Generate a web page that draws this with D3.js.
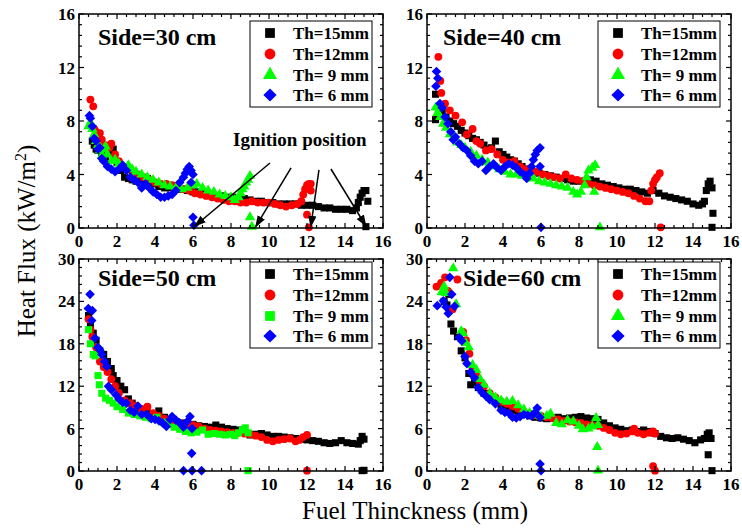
<!DOCTYPE html>
<html>
<head>
<meta charset="utf-8">
<script src="https://d3js.org/d3.v7.min.js"></script>
<style>
  body { margin: 0; background: #fff; }
  text { font-family: "Liberation Serif", "Times New Roman", Times, "DejaVu Serif", serif; }
</style>
</head>
<body>
<svg id="frame" width="742" height="531"></svg>
<script>
// ---- data: [fuel thickness mm, heat flux kW/m2] ----
var s30_15 = [[0.7,6.5],[0.8,6.2],[0.9,5.9],[1.0,5.8],[1.2,5.6],[1.4,5.3],[1.6,5.6],[1.8,5.9],[2.0,4.9],[2.2,4.3],[2.4,3.8],[2.6,3.7],[2.8,3.6],[3.0,3.5],[3.3,3.6],[3.6,3.7],[3.9,3.3],[4.2,3.1],[4.5,3.0],[4.8,3.0],[5.1,2.9],[5.4,2.9],[5.7,2.8],[6.0,2.7],[6.3,2.7],[6.6,2.6],[6.9,2.5],[7.2,2.4],[7.5,2.4],[7.8,2.3],[8.1,2.3],[8.4,2.2],[8.7,2.2],[9.0,2.1],[9.3,2.0],[9.6,2.0],[9.9,1.9],[10.2,1.9],[10.5,1.8],[10.8,1.8],[11.1,1.8],[11.4,1.8],[11.7,1.7],[12.0,1.7],[12.3,1.7],[12.6,1.6],[12.9,1.5],[13.2,1.5],[13.5,1.4],[13.8,1.4],[14.1,1.4],[14.4,1.3],[14.6,1.5],[14.7,1.9],[14.8,2.3],[14.9,2.6],[15.0,2.8],[15.1,2.8],[15.2,2.0],[15.1,0.1]];
var s30_12 = [[0.6,9.6],[0.75,9.1],[0.8,7.4],[0.9,7.2],[1.0,7.0],[1.1,7.1],[1.2,6.6],[1.4,6.2],[1.6,6.0],[1.7,6.3],[1.9,5.5],[2.1,5.0],[2.3,4.6],[2.5,4.4],[2.8,4.2],[3.1,4.0],[3.4,3.8],[3.7,3.6],[4.0,3.4],[4.3,3.3],[4.6,3.3],[4.9,3.2],[5.2,3.0],[5.5,2.9],[5.8,2.8],[6.1,2.6],[6.4,2.5],[6.7,2.4],[7.0,2.3],[7.3,2.2],[7.6,2.1],[7.9,2.0],[8.2,2.0],[8.5,1.9],[8.8,1.9],[9.1,2.0],[9.4,1.9],[9.7,1.9],[10.0,1.9],[10.3,1.8],[10.6,1.7],[10.9,1.6],[11.2,1.7],[11.5,1.8],[11.7,2.0],[11.8,2.5],[11.9,2.9],[12.0,3.2],[12.1,3.3],[12.2,3.3],[12.2,2.8],[12.0,1.0],[12.1,0.05]];
var s30_9 = [[0.5,7.6],[0.6,7.9],[0.7,7.4],[0.8,7.0],[0.9,6.5],[1.0,6.2],[1.1,5.8],[1.2,5.4],[1.3,5.9],[1.4,6.1],[1.5,5.5],[1.7,5.0],[1.9,5.1],[2.1,4.8],[2.3,4.6],[2.6,4.7],[2.8,4.4],[3.0,4.2],[3.3,4.0],[3.6,3.8],[3.9,3.6],[4.2,3.4],[4.5,3.2],[4.8,3.1],[5.1,3.0],[5.4,2.9],[5.7,3.0],[6.0,3.2],[6.2,3.3],[6.5,3.0],[6.8,2.8],[7.1,2.7],[7.4,2.5],[7.7,2.4],[8.0,2.3],[8.2,2.1],[8.4,2.3],[8.5,2.6],[8.6,2.9],[8.7,3.1],[8.8,3.4],[8.9,3.6],[9.0,3.9],[9.0,0.8],[9.1,0.1]];
var s30_6 = [[0.55,8.4],[0.6,8.2],[0.7,7.6],[0.8,6.7],[0.9,6.5],[1.0,5.9],[1.1,6.0],[1.2,5.2],[1.3,5.0],[1.5,4.6],[1.7,4.4],[1.9,4.2],[2.1,4.4],[2.3,4.7],[2.5,4.3],[2.7,3.8],[2.9,3.6],[3.1,3.4],[3.3,3.0],[3.5,3.3],[3.7,3.0],[3.9,2.7],[4.1,2.5],[4.3,2.3],[4.5,2.3],[4.7,2.4],[4.9,2.5],[5.1,2.8],[5.3,3.4],[5.5,3.8],[5.6,4.1],[5.7,4.4],[5.8,4.6],[5.9,4.3],[6.0,4.0],[5.9,3.4],[6.0,0.8],[6.05,0.2]];

var s40_15 = [[0.45,10.0],[0.45,8.1],[0.6,8.5],[0.8,8.7],[1.0,8.3],[1.2,8.0],[1.4,7.8],[1.6,7.6],[1.8,7.3],[2.0,7.1],[2.2,6.9],[2.4,6.7],[2.6,6.6],[2.8,6.4],[3.0,6.2],[3.2,5.9],[3.4,6.0],[3.6,6.5],[3.8,5.7],[4.0,5.5],[4.2,5.3],[4.4,5.1],[4.6,5.0],[4.8,4.8],[5.0,4.6],[5.3,4.4],[5.6,4.2],[5.9,4.1],[6.2,4.0],[6.5,3.9],[6.8,3.8],[7.1,3.7],[7.4,3.6],[7.7,3.5],[8.0,3.5],[8.3,3.4],[8.6,3.6],[8.9,3.5],[9.2,3.3],[9.5,3.2],[9.8,3.1],[10.1,3.0],[10.4,2.9],[10.7,2.9],[11.0,2.8],[11.3,2.7],[11.6,2.6],[11.9,2.8],[12.2,2.6],[12.5,2.4],[12.8,2.3],[13.1,2.2],[13.4,2.1],[13.7,2.0],[14.0,1.8],[14.3,1.7],[14.5,1.8],[14.6,2.0],[14.7,2.8],[14.8,3.3],[14.9,3.5],[15.0,3.0],[15.05,1.1],[15.0,0.05]];
var s40_12 = [[0.6,12.8],[0.7,11.0],[0.75,10.1],[0.95,9.3],[1.2,8.8],[1.5,8.4],[1.85,7.9],[2.1,7.0],[2.4,7.4],[2.6,6.5],[2.8,6.3],[3.1,5.8],[3.4,5.9],[3.7,5.5],[4.0,5.1],[4.3,4.9],[4.6,5.0],[4.9,4.6],[5.2,4.4],[5.5,4.3],[5.8,4.2],[6.1,4.0],[6.4,3.9],[6.7,3.8],[7.0,3.7],[7.3,4.0],[7.6,3.7],[7.9,3.6],[8.2,3.5],[8.5,3.3],[8.8,3.2],[9.1,3.1],[9.4,3.0],[9.7,2.9],[10.0,2.8],[10.3,2.7],[10.6,2.6],[10.9,2.4],[11.2,2.2],[11.5,2.0],[11.7,2.0],[11.8,2.8],[11.9,3.3],[12.0,3.6],[12.1,3.8],[12.25,4.1],[12.3,0.05]];
var s40_9 = [[0.45,9.0],[0.55,8.6],[0.7,8.3],[0.85,7.8],[1.0,7.5],[1.2,7.0],[1.4,6.8],[1.6,6.4],[1.8,6.2],[2.0,6.0],[2.3,5.7],[2.6,5.4],[2.9,5.1],[3.2,4.9],[3.5,4.6],[3.8,4.4],[4.1,4.2],[4.4,4.0],[4.7,4.0],[5.0,3.9],[5.3,3.8],[5.6,3.7],[5.9,3.5],[6.2,3.4],[6.5,3.3],[6.8,3.2],[7.1,3.1],[7.4,3.0],[7.7,2.7],[7.9,2.5],[8.1,2.7],[8.3,3.2],[8.4,3.8],[8.5,4.3],[8.7,4.5],[8.85,4.7],[8.8,2.7],[9.1,0.05]];
var s40_6 = [[0.5,11.7],[0.57,11.2],[0.47,10.6],[0.68,9.3],[0.8,9.0],[0.95,8.3],[1.1,7.8],[1.25,7.2],[1.38,6.6],[1.5,6.8],[1.7,6.3],[1.9,6.0],[2.1,5.8],[2.3,5.4],[2.5,5.0],[2.7,4.8],[2.9,5.0],[3.1,4.3],[3.3,4.6],[3.5,4.8],[3.7,4.5],[3.9,4.3],[4.1,4.6],[4.3,4.8],[4.5,4.7],[4.7,4.5],[4.9,4.2],[5.1,4.0],[5.25,3.7],[5.4,4.1],[5.5,4.6],[5.6,5.1],[5.7,5.5],[5.8,5.8],[5.95,6.0],[5.95,4.6],[6.0,0.05]];

var s50_15 = [[0.5,22.0],[0.6,20.5],[0.75,19.5],[0.9,18.5],[1.1,17.0],[1.3,16.5],[1.5,15.5],[1.7,14.5],[1.8,13.5],[2.0,12.8],[2.2,12.0],[2.4,11.5],[2.6,10.2],[2.8,9.6],[3.0,9.0],[3.3,8.5],[3.6,8.2],[3.9,8.0],[4.2,8.5],[4.5,7.6],[4.8,7.2],[5.1,7.0],[5.4,6.8],[5.7,6.7],[6.0,6.6],[6.3,6.4],[6.6,6.3],[6.9,6.2],[7.2,6.5],[7.5,6.2],[7.8,6.0],[8.1,5.9],[8.4,5.8],[8.7,5.5],[9.0,5.1],[9.3,5.2],[9.6,5.3],[9.9,5.1],[10.2,4.9],[10.5,4.9],[10.8,4.8],[11.1,4.7],[11.4,4.6],[11.7,4.5],[12.0,4.4],[12.3,4.3],[12.6,4.2],[12.9,4.0],[13.2,3.9],[13.5,4.0],[13.8,4.3],[14.1,4.0],[14.4,3.9],[14.7,3.8],[14.8,4.3],[14.9,4.9],[15.0,4.5],[15.0,0.1],[14.9,0.05]];
var s50_12 = [[0.5,21.5],[0.6,20.0],[0.7,19.0],[0.9,17.5],[1.1,15.5],[1.3,14.7],[1.5,14.0],[1.7,13.0],[1.9,12.0],[2.1,11.0],[2.4,10.0],[2.7,9.6],[3.0,9.2],[3.3,8.8],[3.6,9.1],[3.9,8.2],[4.2,7.8],[4.5,7.4],[4.8,7.0],[5.1,6.8],[5.4,6.6],[5.7,6.6],[6.0,6.5],[6.3,6.3],[6.6,6.0],[6.9,5.8],[7.2,5.7],[7.5,5.6],[7.8,5.5],[8.1,5.4],[8.4,5.4],[8.7,5.3],[9.0,5.2],[9.3,5.0],[9.6,4.8],[9.9,4.4],[10.2,4.2],[10.5,4.4],[10.8,4.5],[11.1,4.6],[11.4,4.2],[11.6,4.4],[11.8,4.8],[12.0,5.1],[12.0,0.05]];
var s50_9 = [[0.5,20.0],[0.6,18.0],[0.75,16.5],[0.85,16.3],[1.0,13.5],[1.07,12.2],[1.2,11.0],[1.4,10.3],[1.6,10.0],[1.8,9.6],[2.0,9.1],[2.3,8.7],[2.6,8.2],[2.9,8.0],[3.2,7.8],[3.5,7.6],[3.8,7.4],[4.1,7.6],[4.4,6.9],[4.7,6.6],[5.0,6.2],[5.3,5.9],[5.6,5.6],[5.9,5.4],[6.2,5.5],[6.5,5.8],[6.8,5.2],[7.1,5.3],[7.4,5.2],[7.7,5.1],[8.0,5.2],[8.2,5.0],[8.4,5.4],[8.6,5.8],[8.75,6.1],[8.9,5.4],[8.9,0.05]];
var s50_6 = [[0.49,23.0],[0.58,25.0],[0.7,22.7],[0.67,21.3],[0.84,18.8],[1.0,17.5],[1.1,17.1],[1.2,16.5],[1.35,15.5],[1.46,14.8],[1.55,12.0],[1.7,11.5],[1.94,10.8],[2.1,10.2],[2.3,9.7],[2.5,9.6],[2.7,8.6],[2.9,8.3],[3.1,9.2],[3.3,8.0],[3.56,8.0],[3.8,7.4],[4.0,7.3],[4.2,7.1],[4.4,6.8],[4.6,6.3],[4.8,7.3],[4.9,7.7],[5.1,7.2],[5.3,6.8],[5.5,6.2],[5.7,7.0],[5.84,7.7],[5.95,6.0],[5.93,2.5],[5.5,0.05],[5.95,0.05],[6.45,0.05]];

var s60_15 = [[0.9,24.0],[1.05,23.5],[1.15,25.0],[1.26,20.8],[1.4,19.8],[1.6,19.0],[1.8,17.0],[2.0,16.0],[2.2,13.8],[2.3,12.2],[2.5,12.5],[2.7,11.8],[3.0,11.0],[3.3,10.5],[3.6,10.0],[3.9,9.3],[4.2,9.0],[4.5,8.6],[4.8,8.3],[5.1,8.0],[5.4,7.8],[5.7,7.6],[6.0,7.5],[6.3,7.4],[6.6,7.5],[6.9,7.6],[7.2,7.4],[7.5,7.5],[7.8,7.6],[8.1,7.7],[8.4,7.5],[8.7,7.4],[9.0,7.3],[9.3,6.8],[9.6,6.4],[9.9,6.1],[10.2,5.9],[10.5,5.7],[10.8,5.8],[11.1,5.6],[11.4,5.8],[11.7,5.6],[12.0,5.3],[12.3,4.9],[12.6,4.7],[12.9,4.6],[13.2,4.7],[13.5,4.5],[13.8,4.3],[14.1,4.0],[14.4,4.4],[14.6,4.6],[14.75,5.2],[14.85,5.4],[14.95,4.6],[14.8,2.3],[15.0,0.05]];
var s60_12 = [[0.5,26.1],[0.74,26.6],[0.95,27.4],[1.1,25.5],[1.35,22.9],[1.6,27.1],[1.9,19.7],[2.05,18.5],[2.23,16.6],[2.4,14.5],[2.6,13.5],[2.8,12.5],[3.0,12.0],[3.3,11.0],[3.6,10.4],[3.9,9.8],[4.2,9.5],[4.5,9.2],[4.8,8.8],[5.1,8.4],[5.4,8.1],[5.7,7.9],[6.0,7.8],[6.3,7.6],[6.6,7.5],[6.9,7.3],[7.2,7.1],[7.5,7.0],[7.8,6.9],[8.1,6.8],[8.4,6.6],[8.7,6.5],[9.0,6.4],[9.3,6.1],[9.6,5.8],[9.9,5.4],[10.2,5.2],[10.5,5.3],[10.8,5.6],[10.9,6.0],[11.1,5.4],[11.4,5.2],[11.7,5.4],[11.9,5.6],[12.0,5.3],[11.9,0.7],[12.0,0.05]];
var s60_9 = [[0.77,25.3],[0.9,26.1],[1.0,25.2],[1.38,28.7],[1.53,23.6],[1.8,19.8],[1.9,19.5],[2.05,18.1],[2.2,17.5],[2.4,15.0],[2.6,14.3],[2.8,13.0],[3.0,12.2],[3.3,11.0],[3.6,10.4],[3.9,10.0],[4.2,9.8],[4.5,9.9],[4.8,9.3],[5.1,8.7],[5.4,8.2],[5.7,7.9],[6.0,7.7],[6.3,7.8],[6.5,8.1],[6.8,6.8],[7.1,6.6],[7.4,7.2],[7.7,7.0],[8.0,6.4],[8.2,5.9],[8.5,6.0],[8.7,6.3],[8.9,7.5],[9.0,6.5],[8.96,3.4],[9.0,0.05]];
var s60_6 = [[0.54,23.4],[0.86,24.1],[1.0,23.2],[1.12,22.3],[1.2,27.4],[1.3,25.0],[1.45,23.3],[1.7,18.9],[1.83,18.4],[2.0,16.2],[2.1,15.2],[2.3,14.0],[2.5,13.2],[2.7,11.8],[2.9,11.1],[3.1,10.6],[3.3,10.1],[3.6,9.5],[3.9,8.6],[4.1,8.3],[4.3,8.2],[4.5,7.6],[4.7,7.5],[4.9,7.7],[5.1,8.0],[5.3,7.9],[5.5,7.8],[5.7,8.3],[5.8,8.9],[5.95,7.6],[5.95,1.0],[6.0,0.05]];

var seriesNames = ["Th=15mm", "Th=12mm", "Th= 9 mm", "Th= 6 mm"];
var seriesColors = ["#000000", "#ff0000", "#00ff00", "#0000ff"];
var panelTitles = ["Side=30 cm", "Side=40 cm", "Side=50 cm", "Side=60 cm"];
var panelYMax = [16, 16, 30, 30];
var panelYStep = [4, 4, 6, 6];
var xTicks = [0, 2, 4, 6, 8, 10, 12, 14, 16];

// ignition arrows (panel 1), start and tip in data units
var arrowFrom = [[10.05,4.86],[11.16,4.49],[12.63,4.34],[13.26,4.41]];
var arrowTo = [[6.1,0.15],[9.3,0.1],[12.2,0.1],[15.1,0.15]];

var panels = [
  {series: [s30_15, s30_12, s30_9, s30_6], greenSquare: false},
  {series: [s40_15, s40_12, s40_9, s40_6], greenSquare: false},
  {series: [s50_15, s50_12, s50_9, s50_6], greenSquare: true},
  {series: [s60_15, s60_12, s60_9, s60_6], greenSquare: false}
];

// plot boxes in px
var boxes = [
  {x: 79, y: 14, w: 304, h: 214},
  {x: 427, y: 14, w: 304, h: 214},
  {x: 79, y: 259, w: 304, h: 212},
  {x: 427, y: 259, w: 304, h: 212}
];
var titleDx = [19, 16, 19, 36];
var titleDy = [31, 31, 27, 27];
var legendDy = [7, 7, 3, 3];
var serif = "'Liberation Serif', 'Times New Roman', Times, 'DejaVu Serif', serif";

var svg = d3.select('#frame');
svg.append('rect').attr('width', 742).attr('height', 531).attr('fill', '#fff');

var defs = svg.append('defs');
defs.append('marker')
  .attr('id', 'arrowHead')
  .attr('viewBox', '0 0 10 10')
  .attr('refX', 9).attr('refY', 5)
  .attr('markerWidth', 8).attr('markerHeight', 8)
  .attr('markerUnits', 'strokeWidth')
  .attr('orient', 'auto')
  .append('path')
  .attr('d', 'M0,1.5 L10,5 L0,8.5 Z')
  .attr('fill', '#000');

function symbolFor(i, greenSquare, big) {
  var k = big ? 1.9 : 1;
  if (i == 0) return d3.symbol().type(d3.symbolSquare).size(50 * k)();
  if (i == 1) return d3.symbol().type(d3.symbolCircle).size(48 * k)();
  if (i == 2) {
    if (greenSquare) return d3.symbol().type(d3.symbolSquare).size(50 * k)();
    return d3.symbol().type(d3.symbolTriangle).size(46 * k)();
  }
  return d3.symbol().type(d3.symbolSquare).size(46 * k)();
}

panels.forEach(function(p, pi) {
  var b = boxes[pi];
  var g = svg.append('g').style('font-family', serif);
  var x = d3.scaleLinear().domain([0, 16]).range([b.x, b.x + b.w]);
  var y = d3.scaleLinear().domain([0, panelYMax[pi]]).range([b.y + b.h, b.y]);

  // points, black first, blue on top
  p.series.forEach(function(data, si) {
    var path = symbolFor(si, p.greenSquare, false);
    g.append('g').selectAll('path')
      .data(data)
      .enter().append('path')
      .attr('d', path)
      .attr('transform', function(d) {
        var t = 'translate(' + x(d[0]) + ',' + y(d[1]) + ')';
        return si == 3 ? t + ' rotate(45)' : t;
      })
      .attr('fill', seriesColors[si]);
  });

  // ticks on all four sides, pointing inward
  var xMinor = d3.range(0, 16.01, 0.5);
  var yMinor = d3.range(0, panelYMax[pi] + 0.01, panelYStep[pi] / 5);
  var yMajor = d3.range(0, panelYMax[pi] + 0.01, panelYStep[pi]);
  var tk = g.append('g').attr('stroke', '#000').attr('stroke-width', 1.2);
  xMinor.forEach(function(v) {
    var len = (v % 2 == 0) ? 5 : 3;
    tk.append('line').attr('x1', x(v)).attr('x2', x(v)).attr('y1', b.y + b.h).attr('y2', b.y + b.h - len);
    tk.append('line').attr('x1', x(v)).attr('x2', x(v)).attr('y1', b.y).attr('y2', b.y + len);
  });
  yMinor.forEach(function(v, i) {
    var len = (i % 5 == 0) ? 5 : 3;
    tk.append('line').attr('y1', y(v)).attr('y2', y(v)).attr('x1', b.x).attr('x2', b.x + len);
    tk.append('line').attr('y1', y(v)).attr('y2', y(v)).attr('x1', b.x + b.w).attr('x2', b.x + b.w - len);
  });

  g.append('rect')
    .attr('x', b.x).attr('y', b.y).attr('width', b.w).attr('height', b.h)
    .attr('fill', 'none').attr('stroke', '#000').attr('stroke-width', 1.5);

  // tick labels
  g.append('g').selectAll('text')
    .data(xTicks)
    .enter().append('text')
    .attr('x', function(d) { return x(d); })
    .attr('y', b.y + b.h + 19)
    .attr('text-anchor', 'middle')
    .attr('font-weight', 'bold')
    .attr('font-size', 17)
    .text(function(d) { return d; });

  g.append('g').selectAll('text')
    .data(yMajor)
    .enter().append('text')
    .attr('x', b.x - 4)
    .attr('y', function(d) { return y(d) + 6; })
    .attr('text-anchor', 'end')
    .attr('font-weight', 'bold')
    .attr('font-size', 17)
    .text(function(d) { return d; });

  // panel title
  g.append('text')
    .attr('x', b.x + titleDx[pi])
    .attr('y', b.y + titleDy[pi])
    .attr('font-weight', 'bold')
    .attr('font-size', 24)
    .text(panelTitles[pi]);

  // legend
  var lx = b.x + b.w - 133;
  var ly = b.y + legendDy[pi];
  var leg = g.append('g');
  leg.append('rect')
    .attr('x', lx).attr('y', ly).attr('width', 122).attr('height', 86)
    .attr('fill', '#fff').attr('stroke', '#000').attr('stroke-width', 1);
  var rowY = [18, 39, 60, 80];
  seriesNames.forEach(function(name, si) {
    leg.append('path')
      .attr('d', symbolFor(si, p.greenSquare, true))
      .attr('transform', 'translate(' + (lx + 20) + ',' + (ly + rowY[si] - 6) + ')' + (si == 3 ? ' rotate(45)' : ''))
      .attr('fill', seriesColors[si]);
    leg.append('text')
      .attr('x', lx + 43)
      .attr('y', ly + rowY[si])
      .attr('font-weight', 'bold')
      .attr('font-size', 17)
      .style('white-space', 'pre')
      .text(name);
  });

  if (pi == 0) {
    g.append('text')
      .attr('x', 233).attr('y', 146)
      .attr('font-weight', 'bold')
      .attr('font-size', 19)
      .text('Ignition position');
    arrowFrom.forEach(function(a, i) {
      g.append('line')
        .attr('x1', x(a[0])).attr('y1', y(a[1]))
        .attr('x2', x(arrowTo[i][0])).attr('y2', y(arrowTo[i][1]))
        .attr('stroke', '#000').attr('stroke-width', 1.5)
        .attr('marker-end', 'url(#arrowHead)');
    });
  }
});

// axis titles
var yt = svg.append('text')
  .attr('transform', 'translate(35,241) rotate(-90)')
  .attr('text-anchor', 'middle')
  .style('font-family', serif)
  .attr('font-size', 25);
yt.append('tspan').text('Heat Flux (kW/m');
yt.append('tspan').attr('font-size', 16).attr('dy', -9).text('2');
yt.append('tspan').attr('dy', 9).text(')');

svg.append('text')
  .attr('x', 415).attr('y', 519)
  .attr('text-anchor', 'middle')
  .style('font-family', serif)
  .attr('font-size', 25)
  .text('Fuel Thinckness (mm)');
</script>
</body>
</html>
